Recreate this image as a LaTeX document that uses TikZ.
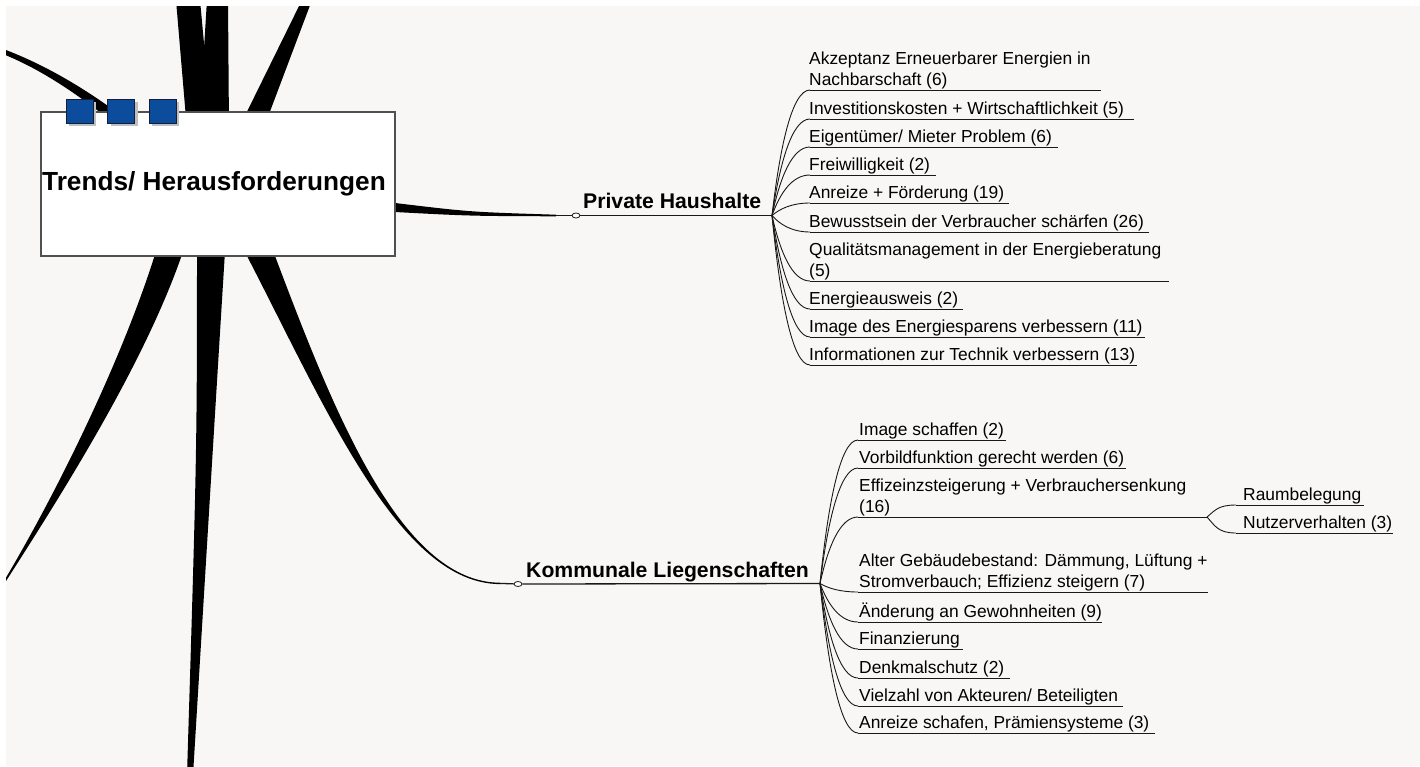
\documentclass[tikz,border=0pt]{standalone}
\usepackage{fontspec}
\setmainfont{Liberation Sans}
\usetikzlibrary{calc,shadows,shapes.geometric}
\definecolor{bg}{RGB}{248,247,245}
\definecolor{sqblue}{RGB}{12,76,156}
\definecolor{sqedge}{RGB}{20,30,60}
\definecolor{boxedge}{RGB}{80,80,80}
\definecolor{ink}{RGB}{25,25,25}
\tikzset{
  leaf/.style={anchor=south west, inner sep=0pt, text depth=0pt, align=left,
    font=\fontsize{17.4}{21}\selectfont, text=black},
  uline/.style={draw=ink, line width=1pt},
  fanline/.style={draw=ink, line width=0.9pt},
  mainline/.style={draw=ink, line width=1.3pt},
  mainlabel/.style={anchor=base west, inner sep=0pt, font=\bfseries\fontsize{21.2}{25}\selectfont},
  knot/.style={ellipse, draw=ink, fill=white, line width=0.8pt, minimum width=8pt, minimum height=5pt, inner sep=0pt},
  rootbox/.style={draw=boxedge, fill=white, line width=1.1pt, minimum width=354pt, minimum height=144pt,
    inner sep=0pt, font=\bfseries\fontsize{26.2}{30}\selectfont},
  sq/.style={minimum width=27pt, minimum height=24pt, inner sep=0pt, fill=sqblue, draw=sqedge, line width=1pt,
    drop shadow={shadow xshift=3pt, shadow yshift=-3pt, fill=black!25, opacity=1}},
  branch/.style={fill=black}
}
% #1 name, #2 hub, #3 underline start x, #4 underline y, #5 underline end x, #6 text, #7 text x
\newcommand\mmleaf[7]{%
  \coordinate (#1s) at (#3,#4);
  \coordinate (#1e) at (#5,#4);
  \node[leaf] (#1) at ({#7},{#4-4}) {#6};
  \draw[uline] (#1s) -- (#1e);
  \draw[fanline] (#2) .. controls ($(#2)!0.55!(#2 |- #1s)+(8,0)$) and ($(#1s)+(-18,0)$) .. (#1s);
}
\begin{document}
\begin{tikzpicture}[x=1pt,y=-1pt]
\useasboundingbox (0,0) rectangle (1420,766);
\fill[white] (0,0) rectangle (1420,766);
\fill[bg] (6,6) rectangle (1420,766);

% thick branches
\begin{scope}
\clip (6,6) rectangle (1420,766);
% top-left curve
\fill[branch] (-5,46) .. controls (41,62) and (82,87) .. (115,111) -- (110,120) .. controls (78,95) and (39,67) .. (-5,51) -- cycle;
% top V
\fill[branch] (176,0) -- (200,0) -- (212,130) -- (187,130) -- cycle;
\fill[branch] (207,0) -- (228,0) -- (229,130) -- (199,130) -- cycle;
% top right
\fill[branch] (302,0) -- (312,0) -- (263,130) -- (238,130) -- cycle;
% bottom left
\fill[branch] (152,235) -- (184,235) -- (181.5,256) .. controls (140.4,373.5) and (51,511) .. (-9.6,605.3)
   -- (-10.4,604.7) .. controls (49,509.5) and (119.6,366.5) .. (154.5,256) -- cycle;
% bottom middle
\fill[branch] (197,235) -- (226,235) .. controls (214,430) .. (193,775) -- (187,775) .. controls (197,450) .. (197,235) -- cycle;
% bottom right (to Kommunale Liegenschaften)
\fill[branch] (244,235) -- (272,235) -- (275,256) .. controls (332.7,408.8) and (400,582.3) .. (500,582.7)
   -- (500,584.1) .. controls (400,583.7) and (327.3,411.2) .. (247,256) -- cycle;
% right (to Private Haushalte)
\fill[branch] (385,203) -- (395,203) .. controls (470,212) .. (556,214.7) -- (556,216.3) .. controls (470,216) .. (395,212) -- (385,212) -- cycle;
\end{scope}

% root
\node[rootbox] (root) at (218,184) {\kern-8pt Trends/ Herausforderungen};
\node[sq] (s1) at (79.5,111) {};
\node[sq] (s2) at (121,111) {};
\node[sq] (s3) at (162.5,111) {};

% Private Haushalte
\coordinate (phT) at (556,215.5);
\node[knot] (phk) at (576,215.5) {};
\coordinate (phh) at (772,215.5);
\node[mainlabel] (ph) at (583,208) {Private Haushalte};
\draw[mainline] (phT) -- (phk);
\draw[mainline] (phk) -- (phh);

\mmleaf{p1}{phh}{810}{90}{1101}{Akzeptanz Erneuerbarer Energien in\\Nachbarschaft (6)}{809}
\mmleaf{p2}{phh}{810}{119}{1134}{Investitionskosten + Wirtschaftlichkeit (5)}{809}
\mmleaf{p3}{phh}{810}{147}{1058}{Eigentümer/ Mieter Problem (6)}{809}
\mmleaf{p4}{phh}{810}{175}{936}{Freiwilligkeit (2)}{809}
\mmleaf{p5}{phh}{810}{203}{1009}{Anreize + Förderung (19)}{809}
\mmleaf{p6}{phh}{810}{232}{1149}{Bewusstsein der Verbraucher schärfen (26)}{809}
\mmleaf{p7}{phh}{810}{281}{1169}{Qualitätsmanagement in der Energieberatung\\(5)}{809}
\mmleaf{p8}{phh}{810}{309}{963}{Energieausweis (2)}{809}
\mmleaf{p9}{phh}{810}{337}{1145}{Image des Energiesparens verbessern (11)}{809}
\mmleaf{p10}{phh}{810}{365}{1137}{Informationen zur Technik verbessern (13)}{809}

% Kommunale Liegenschaften
\coordinate (klT) at (500,583.4);
\node[knot] (klk) at (518,584) {};
\coordinate (klh) at (820,583.5);
\node[mainlabel] (kl) at (526,577) {Kommunale Liegenschaften};
\draw[mainline] (klT) -- (klk);
\draw[mainline] (klk) -- (klh);

\mmleaf{k1}{klh}{858}{440}{1006}{Image schaffen (2)}{859}
\mmleaf{k2}{klh}{858}{468}{1126}{Vorbildfunktion gerecht werden (6)}{859}
\mmleaf{k3}{klh}{858}{517}{1207}{Effizeinzsteigerung + Verbrauchersenkung\\(16)}{859}
\mmleaf{k4}{klh}{858}{592}{1208}{Alter Gebäudebestand: Dämmung, Lüftung +\\Stromverbauch; Effizienz steigern (7)}{859}
\mmleaf{k5}{klh}{858}{622}{1102}{Änderung an Gewohnheiten (9)}{859}
\mmleaf{k6}{klh}{858}{649}{963}{Finanzierung}{859}
\mmleaf{k7}{klh}{858}{678}{1010}{Denkmalschutz (2)}{859}
\mmleaf{k8}{klh}{858}{706}{1123}{Vielzahl von Akteuren/ Beteiligten}{859}
\mmleaf{k9}{klh}{858}{733}{1155}{Anreize schafen, Prämiensysteme (3)}{859}

\mmleaf{r1}{k3e}{1236}{505}{1364}{Raumbelegung}{1243}
\mmleaf{r2}{k3e}{1236}{533}{1393}{Nutzerverhalten (3)}{1243}
\end{tikzpicture}
\end{document}
